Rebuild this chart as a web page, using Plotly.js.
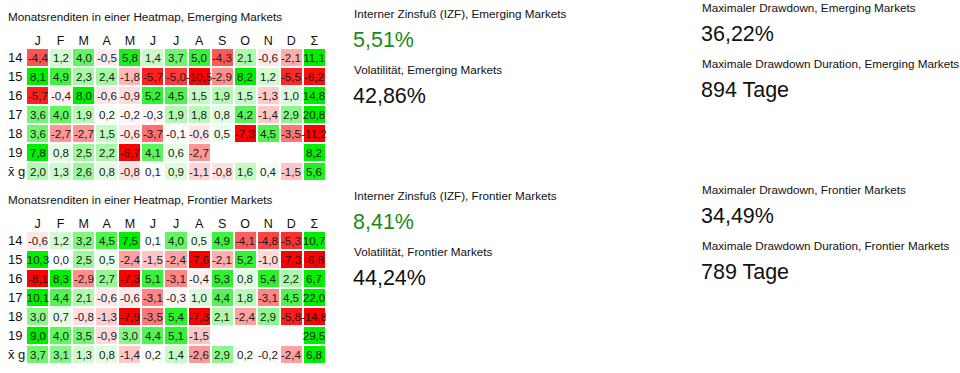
<!DOCTYPE html>
<html>
<head>
<meta charset="utf-8">
<script src="https://cdn.plot.ly/plotly-3.0.1.min.js"></script>
<style>
html,body{margin:0;padding:0;background:#fff;}
#chart{width:960px;height:373px;}
</style>
</head>
<body>
<div id="chart"></div>
<script>
// ---- data ----
const months = ["J","F","M","A","M","J","J","A","S","O","N","D","Σ"];
const rowLabels = ["14","15","16","17","18","19","x̄ g"];

const emerging14 = [-4.4, 1.2, 4.0, -0.5, 5.8, 1.4, 3.7, 5.0, -4.3, 2.1, -0.6, -2.1, 11.1];
const emerging15 = [8.1, 4.9, 2.3, 2.4, -1.8, -5.7, -5.0, -10.5, -2.9, 8.2, 1.2, -5.5, -6.2];
const emerging16 = [-5.7, -0.4, 8.0, -0.6, -0.9, 5.2, 4.5, 1.5, 1.9, 1.5, -1.3, 1.0, 14.8];
const emerging17 = [3.6, 4.0, 1.9, 0.2, -0.2, -0.3, 1.9, 1.8, 0.8, 4.2, -1.4, 2.9, 20.8];
const emerging18 = [3.6, -2.7, -2.7, 1.5, -0.6, -3.7, -0.1, -0.6, 0.5, -7.3, 4.5, -3.5, -11.2];
const emerging19 = [7.8, 0.8, 2.5, 2.2, -6.7, 4.1, 0.6, -2.7, null, null, null, null, 8.2];
const emergingMean = [2.0, 1.3, 2.6, 0.8, -0.8, 0.1, 0.9, -1.1, -0.8, 1.6, 0.4, -1.5, 5.6];

const frontier14 = [-0.6, 1.2, 3.2, 4.5, 7.5, 0.1, 4.0, 0.5, 4.9, -4.1, -4.8, -5.3, 10.7];
const frontier15 = [10.3, 0.0, 2.5, 0.5, -2.4, -1.5, -2.4, -7.6, -2.1, 5.2, -1.0, -7.3, -6.8];
const frontier16 = [-8.1, 8.3, -2.9, 2.7, -7.3, 5.1, -3.1, -0.4, 5.3, 0.8, 5.4, 2.2, 6.7];
const frontier17 = [10.1, 4.4, 2.1, -0.6, -0.6, -3.1, -0.3, 1.0, 4.4, 1.8, -3.1, 4.5, 22.0];
const frontier18 = [3.0, 0.7, -0.8, -1.3, -7.9, -3.5, 5.4, -7.3, 2.1, -2.4, 2.9, -5.8, -14.8];
const frontier19 = [9.0, 4.0, 3.5, -0.9, 3.0, 4.4, 5.1, -1.5, null, null, null, null, 29.5];
const frontierMean = [3.7, 3.1, 1.3, 0.8, -1.4, 0.2, 1.4, -2.6, 2.9, 0.2, -0.2, -2.4, 6.8];

const emergingTitle = "Monatsrenditen in einer Heatmap, Emerging Markets";
const frontierTitle = "Monatsrenditen in einer Heatmap, Frontier Markets";

const emergingStats = [
  ["Interner Zinsfuß (IZF), Emerging Markets", "5,51%"],
  ["Volatilität, Emerging Markets", "42,86%"],
  ["Maximaler Drawdown, Emerging Markets", "36,22%"],
  ["Maximale Drawdown Duration, Emerging Markets", "894 Tage"]
];
const frontierStats = [
  ["Interner Zinsfuß (IZF), Frontier Markets", "8,41%"],
  ["Volatilität, Frontier Markets", "44,24%"],
  ["Maximaler Drawdown, Frontier Markets", "34,49%"],
  ["Maximale Drawdown Duration, Frontier Markets", "789 Tage"]
];

// ---- build ----
const FONT = 'Helvetica, Arial, "Liberation Sans", sans-serif';
const W = 960, H = 373;
const px = v => v / W;
const py = v => 1 - v / H;

const zE = [emerging14, emerging15, emerging16, emerging17, emerging18, emerging19, emergingMean];
const zF = [frontier14, frontier15, frontier16, frontier17, frontier18, frontier19, frontierMean];
const fmt = z => z.map(r => r.map(v => v === null ? "" : v.toFixed(1).replace(".", ",")));
const xIdx = months.map((m, i) => i);
const yIdx = rowLabels.map((r, i) => i);

const colorscale = [[0, "rgb(255,0,0)"], [0.5, "rgb(255,255,255)"], [1, "rgb(0,238,0)"]];

function hm(z, xa, ya) {
  return {
    type: "heatmap", z: z, x: xIdx, y: yIdx, xaxis: xa, yaxis: ya,
    text: fmt(z), texttemplate: "%{text}",
    textfont: {family: FONT, size: 11.6, color: "#1a1a1a"},
    colorscale: colorscale, zmin: -6.5, zmax: 6.5, showscale: false,
    xgap: 2, ygap: 2, hoverinfo: "skip"
  };
}

function xaxis(anchor) {
  return {
    domain: [px(26), px(326)], anchor: anchor, side: "top",
    tickmode: "array", tickvals: xIdx, ticktext: months,
    ticks: "", showgrid: false, zeroline: false, showline: false,
    tickfont: {family: FONT, size: 12.5, color: "#111"}, fixedrange: true
  };
}
function yaxis(anchor, top, bottom) {
  return {
    domain: [py(bottom), py(top)], anchor: anchor, autorange: "reversed",
    showticklabels: false, ticks: "", showgrid: false, zeroline: false, showline: false,
    fixedrange: true
  };
}

const ann = [];
function txt(t, x, y, size, color) {
  ann.push({text: t, x: px(x), y: py(y), xref: "paper", yref: "paper",
    xanchor: "left", yanchor: "middle", showarrow: false,
    font: {family: FONT, size: size, color: color || "#111"}});
}
txt(emergingTitle, 6, 16, 11.7);
txt(frontierTitle, 6, 199, 11.7);

rowLabels.forEach((r, i) => {
  ann.push({text: r, x: px(6), y: i, xref: "paper", yref: "y", xanchor: "left", yanchor: "middle",
    showarrow: false, font: {family: FONT, size: 13, color: "#111"}});
  ann.push({text: r, x: px(6), y: i, xref: "paper", yref: "y2", xanchor: "left", yanchor: "middle",
    showarrow: false, font: {family: FONT, size: 13, color: "#111"}});
});

// stats
function stats(s, baseY, baseY2, firstColor) {
  txt(s[0][0], 352, baseY, 11.7);
  txt(s[0][1], 351, baseY + 27, 21.5, firstColor);
  txt(s[1][0], 352, baseY + 56, 11.7);
  txt(s[1][1], 351, baseY + 83, 21.5);
  txt(s[2][0], 700, baseY2, 11.7);
  txt(s[2][1], 699, baseY2 + 27, 21.5);
  txt(s[3][0], 700, baseY2 + 56, 11.7);
  txt(s[3][1], 699, baseY2 + 83, 21.5);
}
stats(emergingStats, 13, 7, "#1a8a1a");
stats(frontierStats, 195, 189, "#1a8a1a");

const layout = {
  width: W, height: H, margin: {l: 0, r: 0, t: 0, b: 0},
  paper_bgcolor: "#fff", plot_bgcolor: "#fff",
  separators: ",.",
  font: {family: FONT},
  xaxis: xaxis("y"), yaxis: yaxis("x", 48, 181),
  xaxis2: xaxis("y2"), yaxis2: yaxis("x2", 231, 364),
  annotations: ann, showlegend: false
};

Plotly.newPlot("chart", [hm(zE, "x", "y"), hm(zF, "x2", "y2")], layout, {displayModeBar: false, staticPlot: true});
</script>
</body>
</html>
